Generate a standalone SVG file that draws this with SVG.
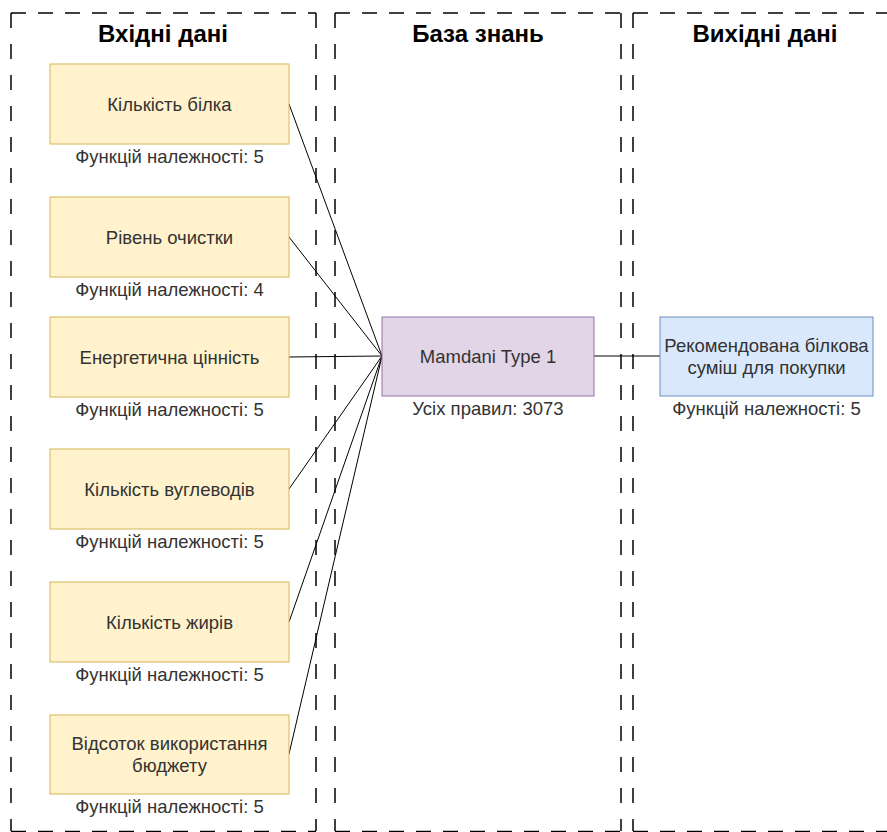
<svg xmlns="http://www.w3.org/2000/svg" width="887" height="832" viewBox="0 0 887 832">
<style>
.h{stroke:#000;stroke-width:1.5;stroke-dasharray:15 12;fill:none}
.v{stroke:#000;stroke-width:1.5;stroke-dasharray:15 16;fill:none}
.title{font-family:"Liberation Sans",Arial,sans-serif;font-weight:bold;font-size:24px;fill:#000;text-anchor:middle}
.t{font-family:"Liberation Sans",Arial,sans-serif;font-size:18.5px;fill:#333;text-anchor:middle}
.in{fill:#fff2cc;stroke:#d6b656;stroke-width:1}
.kb{fill:#e1d5e7;stroke:#9673a6;stroke-width:1}
.out{fill:#dae8fc;stroke:#6c8ebf;stroke-width:1}
.c{stroke:#000;stroke-width:1;fill:none}
</style>
<rect width="887" height="832" fill="#fff"/>
<g id="lane-input">
<line class="h" x1="11" y1="13" x2="316" y2="13"/>
<line class="h" x1="11" y1="831.5" x2="316" y2="831.5"/>
<line class="v" x1="11" y1="13" x2="11" y2="831"/>
<line class="v" x1="316" y1="13" x2="316" y2="831"/>
<text class="title" x="163" y="42">Вхідні дані</text>
</g>
<g id="lane-kb">
<line class="h" x1="335" y1="13" x2="621" y2="13"/>
<line class="h" x1="335" y1="831.5" x2="621" y2="831.5"/>
<line class="v" x1="335" y1="13" x2="335" y2="831"/>
<line class="v" x1="621" y1="13" x2="621" y2="831"/>
<text class="title" x="478" y="42">База знань</text>
</g>
<g id="lane-output">
<line class="h" x1="633" y1="13" x2="897" y2="13"/>
<line class="h" x1="633" y1="831.5" x2="897" y2="831.5"/>
<line class="v" x1="633" y1="13" x2="633" y2="831"/>
<text class="title" x="765" y="42">Вихідні дані</text>
</g>
<g id="connectors">
<line class="c" x1="289" y1="104" x2="382" y2="356"/>
<line class="c" x1="289" y1="237" x2="382" y2="356"/>
<line class="c" x1="289" y1="357" x2="382" y2="356"/>
<line class="c" x1="289" y1="489" x2="382" y2="356"/>
<line class="c" x1="289" y1="622" x2="382" y2="356"/>
<line class="c" x1="289" y1="754" x2="382" y2="356"/>
<line class="c" x1="594" y1="356" x2="660" y2="356"/>
</g>
<g id="n-protein">
<rect class="in" x="50" y="64" width="239" height="80"/>
<text class="t" x="169.5" y="110.5">Кількість білка</text>
<text class="t" x="169.5" y="163">Функцій належності: 5</text>
</g>
<g id="n-purity">
<rect class="in" x="50" y="197" width="239" height="80"/>
<text class="t" x="169.5" y="243.5">Рівень очистки</text>
<text class="t" x="169.5" y="296">Функцій належності: 4</text>
</g>
<g id="n-energy">
<rect class="in" x="50" y="317" width="239" height="80"/>
<text class="t" x="169.5" y="363.5">Енергетична цінність</text>
<text class="t" x="169.5" y="416">Функцій належності: 5</text>
</g>
<g id="n-carbs">
<rect class="in" x="50" y="449" width="239" height="80"/>
<text class="t" x="169.5" y="495.5">Кількість вуглеводів</text>
<text class="t" x="169.5" y="548">Функцій належності: 5</text>
</g>
<g id="n-fats">
<rect class="in" x="50" y="582" width="239" height="80"/>
<text class="t" x="169.5" y="628.5">Кількість жирів</text>
<text class="t" x="169.5" y="681">Функцій належності: 5</text>
</g>
<g id="n-budget">
<rect class="in" x="50" y="715" width="239" height="79"/>
<text class="t" x="169.5" y="750">Відсоток використання</text>
<text class="t" x="169.5" y="772">бюджету</text>
<text class="t" x="169.5" y="813">Функцій належності: 5</text>
</g>
<g id="n-mamdani">
<rect class="kb" x="382" y="317" width="212" height="79"/>
<text class="t" x="488" y="363">Mamdani Type 1</text>
<text class="t" x="488" y="415">Усіх правил: 3073</text>
</g>
<g id="n-output">
<rect class="out" x="660" y="317" width="213" height="79"/>
<text class="t" x="766.5" y="352">Рекомендована білкова</text>
<text class="t" x="766.5" y="374">суміш для покупки</text>
<text class="t" x="766.5" y="415">Функцій належності: 5</text>
</g>
</svg>
